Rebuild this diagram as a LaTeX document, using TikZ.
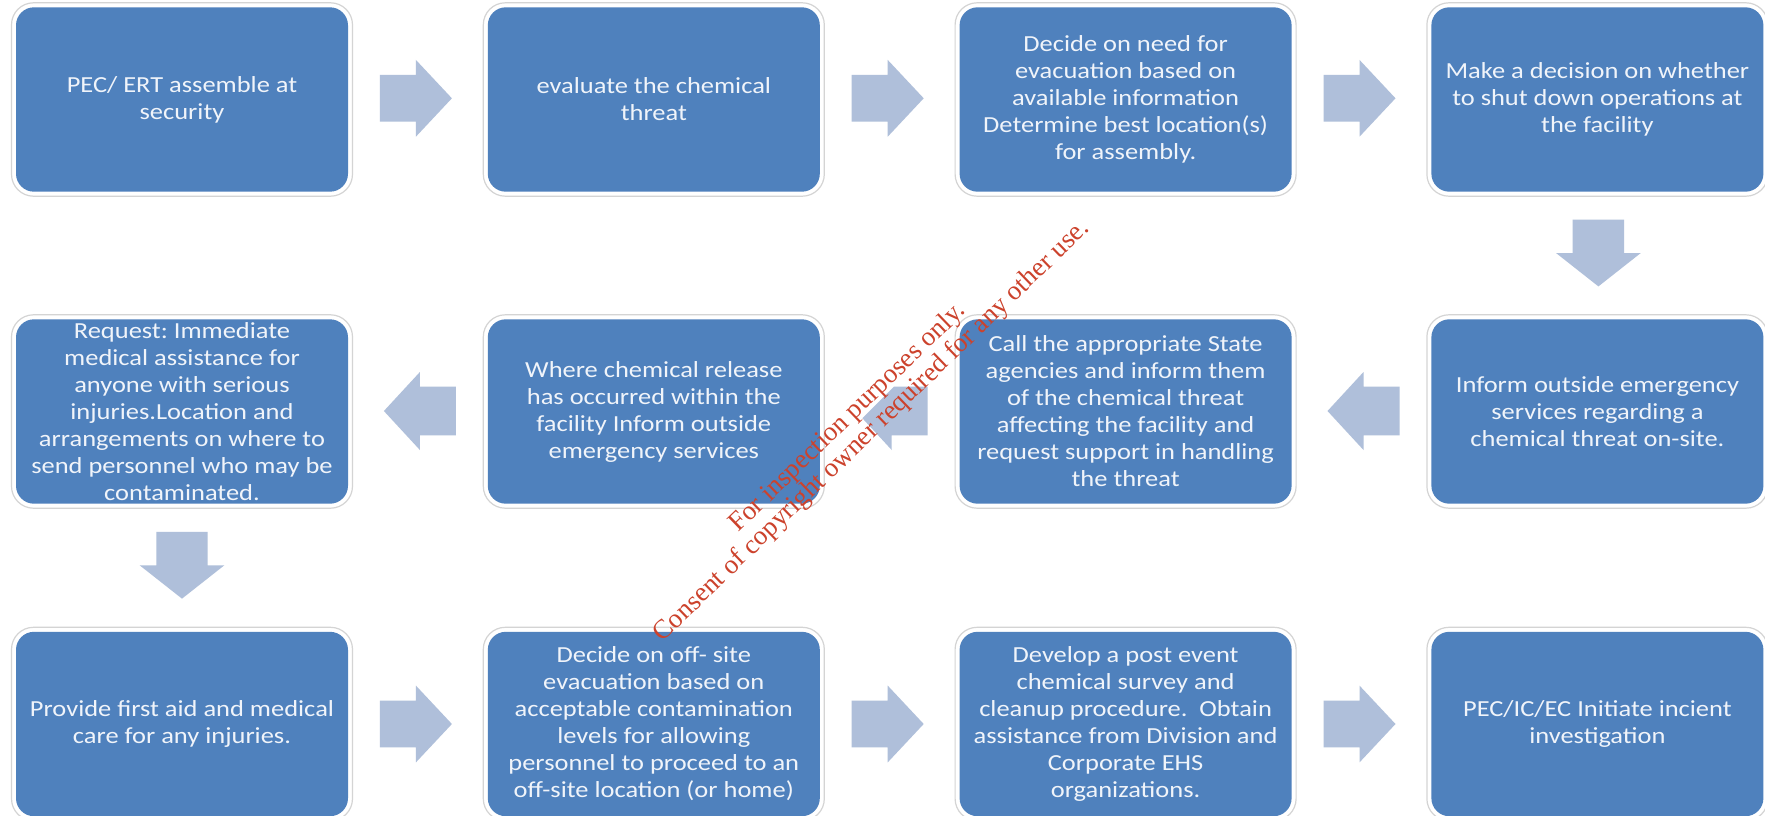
\documentclass[tikz,border=0pt]{standalone}
\usepackage{fontspec}
\newfontfamily\boxfont{Carlito}[FakeStretch=1.15]
\newfontfamily\markfont{Liberation Serif}
\usetikzlibrary{calc}
\frenchspacing

\definecolor{stepblue}{HTML}{4F81BD}
\definecolor{steptext}{RGB}{240,244,250}
\definecolor{flowarrow}{RGB}{175,191,218}
\definecolor{framegray}{RGB}{212,212,212}
\definecolor{markred}{RGB}{204,66,44}

\tikzset{
  stepbox/.style={rectangle, rounded corners=18pt, fill=stepblue,
    minimum width=332pt, minimum height=184.4pt, inner sep=0pt, outer sep=0pt},
  steplabel/.style={align=center, text=steptext,
    font=\boxfont\fontsize{23}{27}\selectfont, inner sep=0pt},
  stepframe/.style={draw=framegray, line width=1.2pt, rounded corners=22pt},
  marktext/.style={text=markred, font=\markfont\fontsize{27}{30}\selectfont,
    rotate=44, anchor=base, inner sep=0pt},
  rarrow/.pic={\fill[flowarrow] (-36,-23.4) -- (0,-23.4) -- (0,-38.4) -- (36,0)
    -- (0,38.4) -- (0,23.4) -- (-36,23.4) -- cycle;},
  larrow/.pic={\fill[flowarrow] (36,-24.3) -- (0,-24.3) -- (0,-39) -- (-36,0)
    -- (0,39) -- (0,24.3) -- (36,24.3) -- cycle;},
  darrow/.pic={\fill[flowarrow] (-25.7,-33.4) -- (25.7,-33.4) -- (25.7,0) -- (42.4,0)
    -- (0,33.4) -- (-42.4,0) -- (-25.7,0) -- cycle;},
}

\begin{document}
\begin{tikzpicture}[x=1pt, y=-1pt]
\useasboundingbox[fill=white] (0,0) rectangle (1765,816);

% ---- step boxes ----
\node[stepbox] (b1)  at (182,99.5)    {};
\node[stepbox] (b2)  at (653.8,99.5)  {};
\node[stepbox] (b3)  at (1125.6,99.5) {};
\node[stepbox] (b4)  at (1597.4,99.5) {};
\node[stepbox] (b5)  at (1597.4,411.5) {};
\node[stepbox] (b6)  at (1125.6,411.5) {};
\node[stepbox] (b7)  at (653.8,411.5)  {};
\node[stepbox] (b8)  at (182,411.5)    {};
\node[stepbox] (b9)  at (182,724)      {};
\node[stepbox] (b10) at (653.8,724)    {};
\node[stepbox] (b11) at (1125.6,724)   {};
\node[stepbox] (b12) at (1597.4,724)   {};

\foreach \n in {b1,b2,b3,b4,b5,b6,b7,b8,b9,b10,b11,b12}
  \draw[stepframe] ($(\n.north west)+(-4.5,-4.5)$) rectangle ($(\n.south east)+(4.5,4.5)$);

% ---- step texts ----
\node[steplabel] (t1) at (b1) {PEC/ ERT assemble at\\security};
\node[steplabel] (t2) at (b2) {evaluate the chemical\\threat};
\node[steplabel] (t3) at (b3) {Decide on need for\\evacuation based on\\available information\\Determine best location(s)\\for assembly.};
\node[steplabel] (t4) at (b4) {Make a decision on whether\\to shut down operations at\\the facility};
\node[steplabel] (t5) at (b5) {Inform outside emergency\\services regarding a\\chemical threat on-site.};
\node[steplabel] (t6) at (b6) {Call the appropriate State\\agencies and inform them\\of the chemical threat\\affecting the facility and\\request support in handling\\the threat};
\node[steplabel] (t7) at (b7) {Where chemical release\\has occurred within the\\facility Inform outside\\emergency services};
\node[steplabel] (t8) at (b8) {Request: Immediate\\medical assistance for\\anyone with serious\\injuries.Location and\\arrangements on where to\\send personnel who may be\\contaminated.};
\node[steplabel] (t9) at (b9) {Provide first aid and medical\\care for any injuries.};
\node[steplabel] (t10) at (b10) {Decide on off- site\\evacuation based on\\acceptable contamination\\levels for allowing\\personnel to proceed to an\\off-site location (or home)};
\node[steplabel] (t11) at (b11) {Develop a post event\\chemical survey and\\cleanup procedure.~~Obtain\\assistance from Division and\\Corporate EHS\\organizations.};
\node[steplabel] (t12) at (b12) {PEC/IC/EC Initiate incient\\investigation};

% ---- block arrows between steps ----
\pic at ($(b1.east)!0.5!(b2.west)+(-2,-1.2)$) {rarrow};
\pic at ($(b2.east)!0.5!(b3.west)+(-2,-1.2)$) {rarrow};
\pic at ($(b3.east)!0.5!(b4.west)+(-2,-1.2)$) {rarrow};
\pic at ($(b4.south)!0.5!(b5.north)+(1,-2.5)$) {darrow};
\pic at ($(b6.east)!0.5!(b5.west)+(2,-0.5)$) {larrow};
\coordinate (m67) at ($(b7.east)!0.5!(b6.west)+(2,-0.5)$);
\begin{scope}
  \clip ($(m67)+(48,-70)$) -- ($(m67)+(-52,30)$) -- ($(m67)+(-52,69)$) -- ($(m67)+(48,69)$) -- cycle;
  \pic at (m67) {larrow};
\end{scope}
\pic at ($(b8.east)!0.5!(b7.west)+(2,-0.5)$) {larrow};
\pic at ($(b8.south)!0.5!(b9.north)+(0,-2.5)$) {darrow};
\pic at ($(b9.east)!0.5!(b10.west)+(-2,0)$) {rarrow};
\pic at ($(b10.east)!0.5!(b11.west)+(-2,0)$) {rarrow};
\pic at ($(b11.east)!0.5!(b12.west)+(-2,0)$) {rarrow};

% ---- stamp across the page ----
\node[marktext] (wm1) at (852.5,422.5) {For inspection purposes only.};
\node[marktext] (wm2) at (876.5,436) {Consent of copyright owner required for any other use.};
\end{tikzpicture}
\end{document}
